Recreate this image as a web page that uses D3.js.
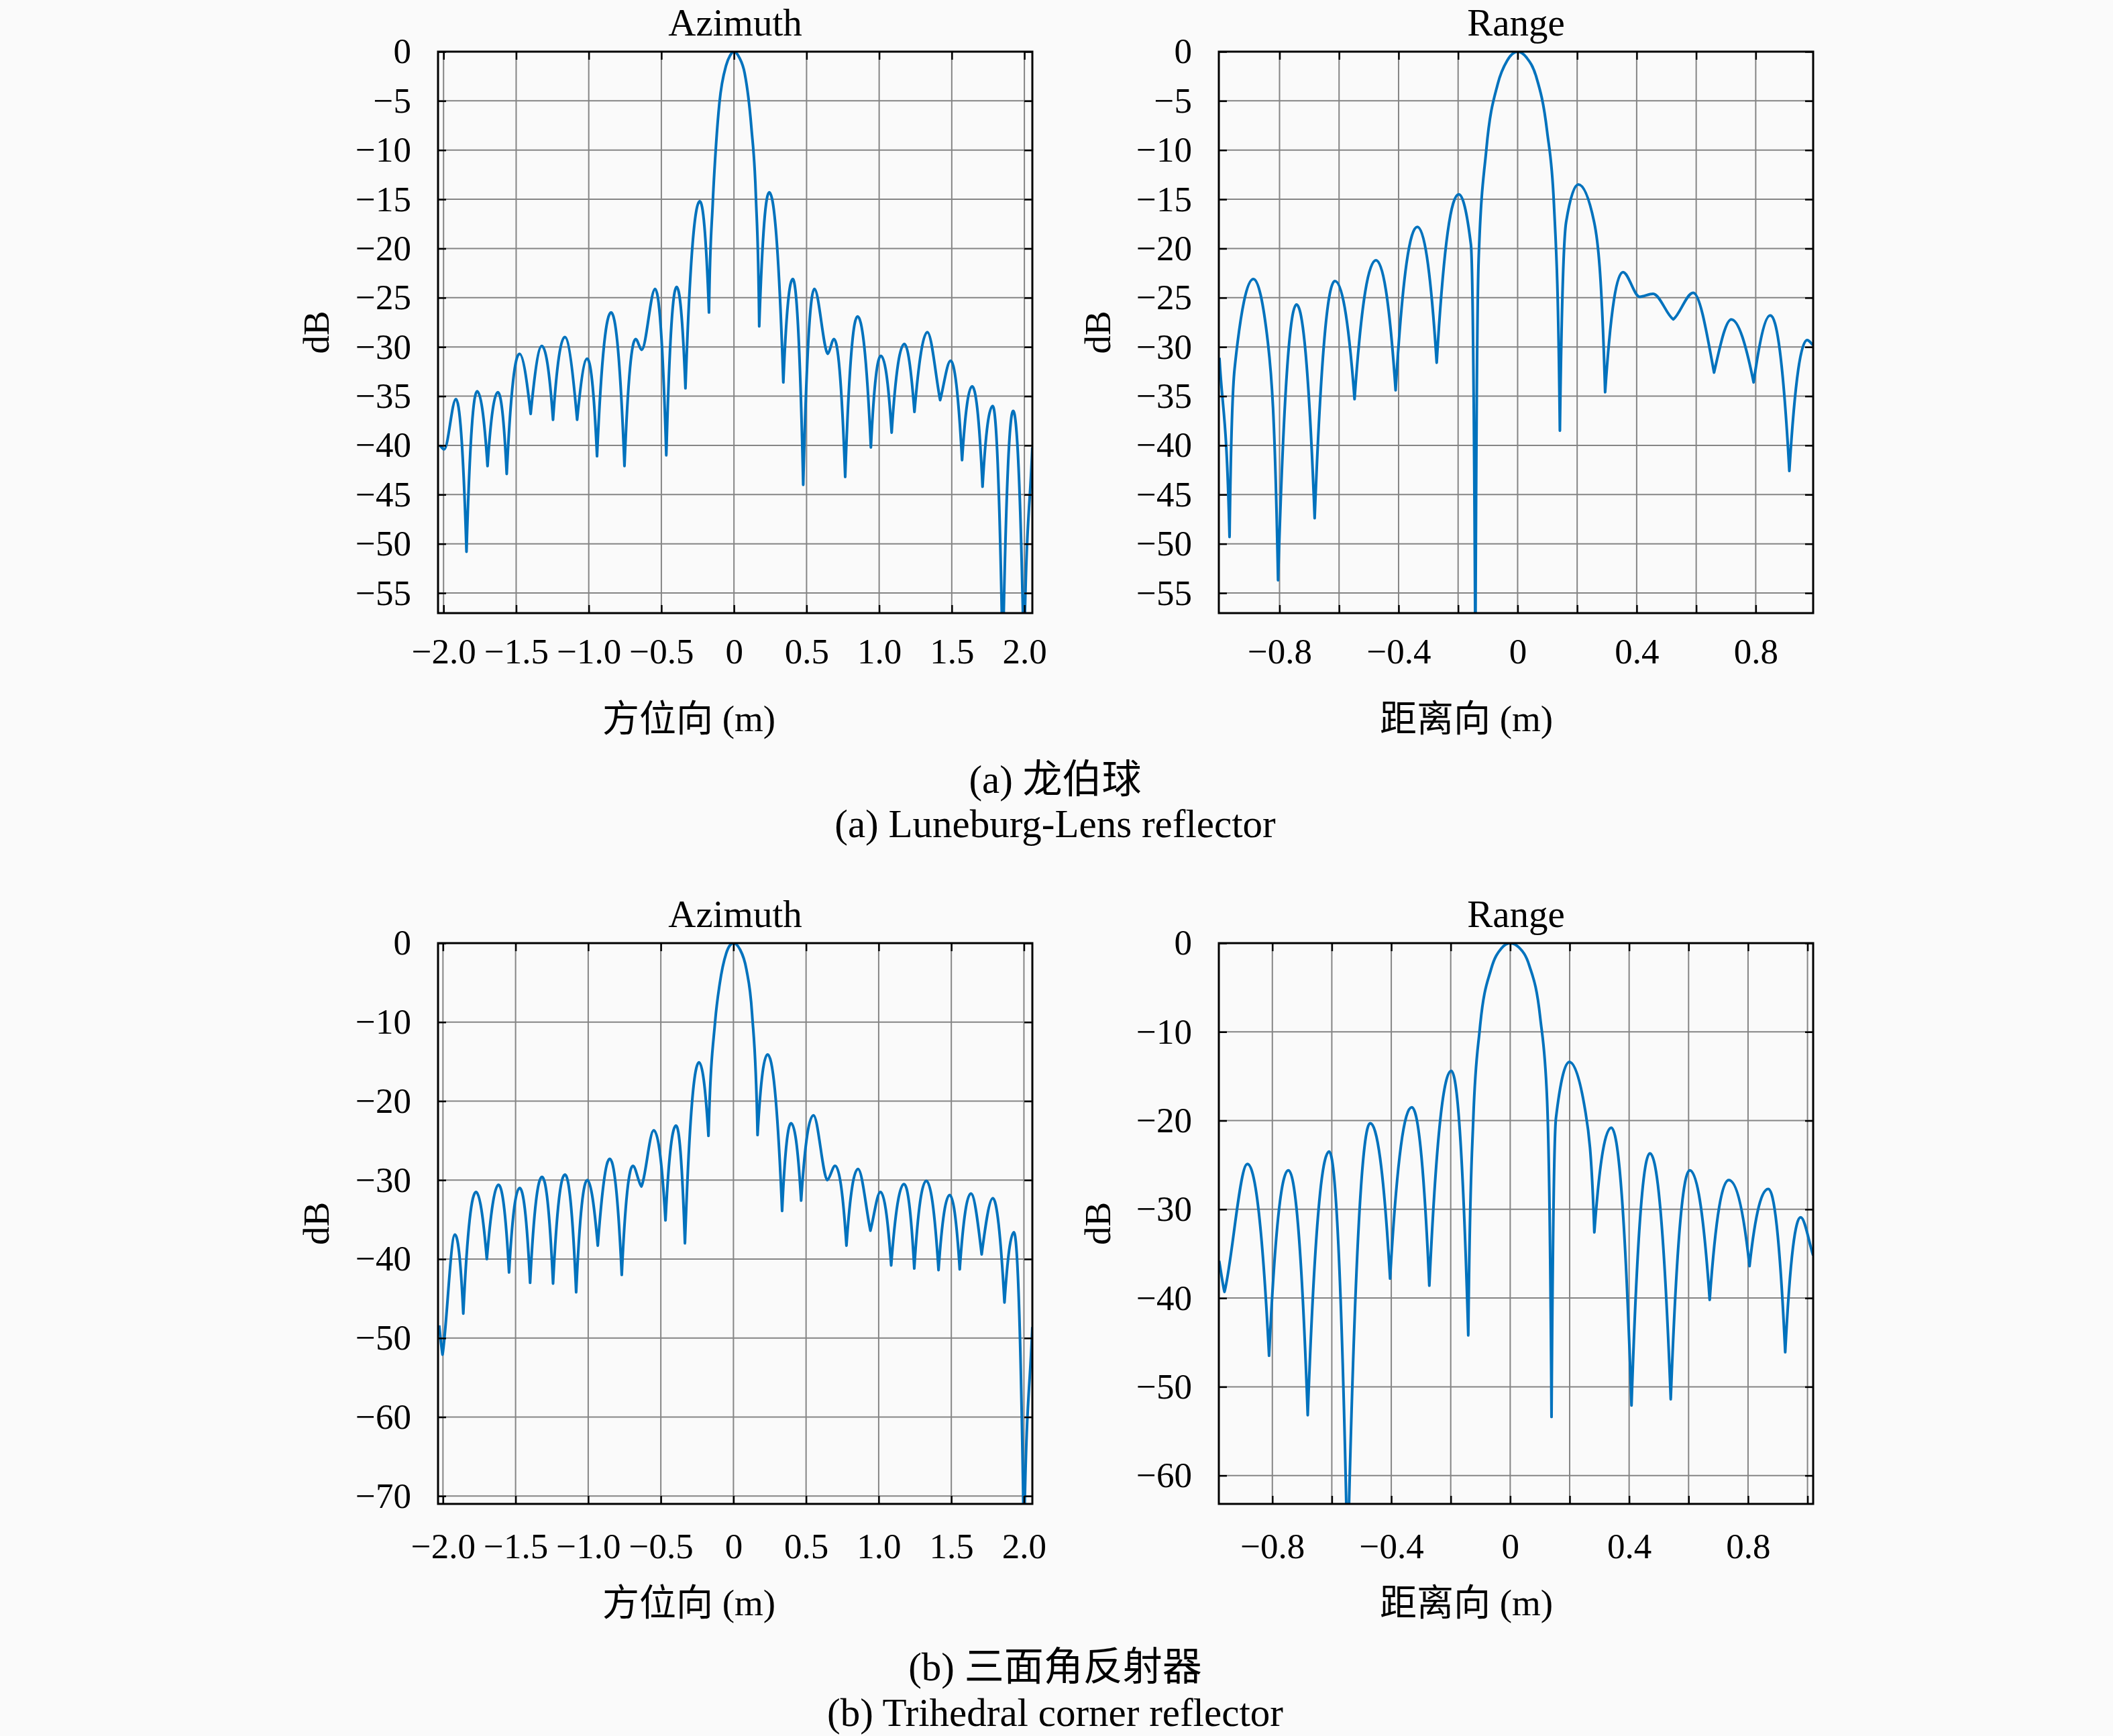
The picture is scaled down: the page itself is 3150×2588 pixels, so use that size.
<!DOCTYPE html>
<html><head><meta charset="utf-8">
<script src="https://cdn.jsdelivr.net/npm/d3@7"></script>
<style>html,body{margin:0;padding:0;background:#fafafa;}</style>
</head><body>
<script>
// ---------------- DATA ----------------
// (a) Luneburg-Lens reflector, azimuth profile
const azA_x  = [-2.026,-1.995,-1.915,-1.842,-1.769,-1.697,-1.626,-1.565,-1.477,-1.40,-1.323,-1.246,-1.165,-1.08,-1.011,-0.943,-0.846,-0.754,-0.677,-0.635,-0.543,-0.466,-0.395,-0.334,-0.235,-0.172,-0.146,-0.123,-0.10,-0.054,-0.027,0,0.037,0.074,0.12,0.151,0.174,0.243,0.34,0.405,0.477,0.554,0.646,0.689,0.766,0.851,0.943,1.012,1.086,1.174,1.243,1.332,1.42,1.492,1.571,1.64,1.712,1.782,1.851,1.923,1.997,2.055];
const azA_db = [-40.0,-40.4,-35.3,-50.8,-34.5,-42.1,-34.6,-42.9,-30.7,-36.8,-29.9,-37.4,-29.0,-37.4,-31.2,-41.1,-26.5,-42.1,-29.2,-30.3,-24.1,-41.0,-23.9,-34.2,-15.2,-26.5,-15.4,-9.4,-5.2,-1.4,-0.4,0,-0.6,-2.2,-7.7,-14.7,-27.9,-14.3,-33.6,-23.1,-44.0,-24.1,-30.7,-29.2,-43.2,-26.9,-40.2,-30.9,-38.7,-29.7,-36.6,-28.5,-35.4,-31.4,-41.5,-34.0,-44.2,-36.0,-62,-36.5,-62,-40.2];
// (a) Luneburg-Lens reflector, range profile
const rgA_x  = [-1.002,-0.968,-0.951,-0.888,-0.839,-0.805,-0.743,-0.682,-0.614,-0.548,-0.476,-0.41,-0.337,-0.272,-0.198,-0.157,-0.142,-0.131,-0.105,-0.067,-0.035,0,0.03,0.062,0.099,0.122,0.142,0.163,0.204,0.257,0.294,0.354,0.41,0.455,0.523,0.59,0.66,0.718,0.793,0.849,0.913,0.973,0.992];
const rgA_db = [-31.1,-49.3,-32.2,-23.1,-29.6,-53.7,-25.7,-47.4,-23.3,-35.3,-21.2,-34.4,-17.8,-31.6,-14.5,-19.6,-62,-21.1,-9.9,-3.3,-0.9,0,-0.6,-2.5,-8.1,-15.5,-38.5,-17.3,-13.5,-17.3,-34.6,-22.4,-24.9,-24.6,-27.2,-24.5,-32.6,-27.2,-33.6,-26.8,-42.6,-29.3,-29.8];
// (b) Trihedral corner reflector, azimuth profile
const azB_x  = [-2.026,-2.003,-1.918,-1.86,-1.772,-1.698,-1.618,-1.545,-1.472,-1.40,-1.318,-1.242,-1.16,-1.083,-1.006,-0.934,-0.852,-0.769,-0.692,-0.634,-0.549,-0.468,-0.395,-0.334,-0.237,-0.172,-0.126,-0.095,-0.05,-0.025,0,0.045,0.089,0.128,0.166,0.235,0.335,0.397,0.466,0.551,0.646,0.70,0.778,0.858,0.943,1.012,1.086,1.174,1.245,1.328,1.412,1.489,1.558,1.635,1.709,1.786,1.866,1.931,2.0,2.058];
const azB_db = [-48.4,-52.1,-36.9,-46.9,-31.5,-40.0,-30.6,-41.7,-31.0,-43.0,-29.6,-43.1,-29.3,-44.2,-30.0,-38.3,-27.3,-42.0,-28.2,-30.8,-23.7,-35.1,-23.1,-38.0,-15.1,-24.4,-9.9,-5.2,-1.3,-0.3,0,-0.8,-3.3,-8.9,-24.3,-14.1,-33.9,-22.8,-32.6,-21.8,-30.0,-28.2,-38.3,-28.6,-36.4,-31.5,-40.8,-30.5,-41.2,-30.1,-41.4,-31.9,-41.3,-31.7,-39.4,-32.3,-45.5,-36.6,-76,-48.6];
// (b) Trihedral corner reflector, range profile
const rgB_x  = [-0.979,-0.961,-0.884,-0.811,-0.746,-0.681,-0.609,-0.547,-0.471,-0.404,-0.331,-0.272,-0.198,-0.141,-0.124,-0.102,-0.064,-0.03,0,0.03,0.064,0.101,0.124,0.139,0.154,0.199,0.252,0.283,0.34,0.408,0.47,0.54,0.604,0.671,0.735,0.805,0.868,0.925,0.977,1.019];
const rgB_db = [-35.8,-39.3,-24.9,-46.5,-25.6,-53.2,-23.5,-70,-20.3,-37.8,-18.5,-38.6,-14.4,-44.2,-19.7,-9.6,-2.9,-0.6,0,-0.5,-2.5,-8.4,-17.6,-53.4,-19.7,-13.4,-18.8,-32.6,-20.8,-52.1,-23.7,-51.4,-25.6,-40.2,-26.7,-36.4,-27.7,-46.1,-30.9,-35.2];

// ticks
const azTicksX  = [-2.0,-1.5,-1.0,-0.5,0,0.5,1.0,1.5,2.0];
const rgTicksXA = [-0.8,-0.6,-0.4,-0.2,0,0.2,0.4,0.6,0.8];
const rgTicksXB = [-0.8,-0.6,-0.4,-0.2,0,0.2,0.4,0.6,0.8,1.0];
const rgLabelX  = [-0.8,-0.4,0,0.4,0.8];
const dbTicksA  = [0,-5,-10,-15,-20,-25,-30,-35,-40,-45,-50,-55];
const dbTicksBaz = [0,-10,-20,-30,-40,-50,-60,-70];
const dbTicksBrg = [0,-10,-20,-30,-40,-50,-60];

// text
const titles = ["Azimuth","Range"];
const xLabels = ["方位向 (m)","距离向 (m)"];
const yLabel = "dB";
const captions = [["(a) 龙伯球","(a) Luneburg-Lens reflector"],["(b) 三面角反射器","(b) Trihedral corner reflector"]];

// ---------------- RENDER ----------------
const W = 3150, H = 2588;
const SERIF = "'Liberation Serif','Times New Roman','Noto Sans CJK SC',serif";
const svg = d3.select("body").append("svg").attr("width", W).attr("height", H)
  .style("background", "#fafafa");

// custom curve: rounded maxima, cusp-like deep minima, monotone elsewhere
function CuspCurve(ctx){ this._context = ctx; }
CuspCurve.prototype = {
  areaStart(){}, areaEnd(){},
  lineStart(){ this._pts = []; },
  point(x, y){ this._pts.push([+x, +y]); },
  lineEnd(){
    const p = this._pts, n = p.length, c = this._context;
    if (!n) return;
    c.moveTo(p[0][0], p[0][1]);
    if (n === 1) return;
    const s = [], h = [];
    for (let i = 0; i < n - 1; i++) {
      h.push(p[i+1][0] - p[i][0]);
      s.push((p[i+1][1] - p[i][1]) / h[i]);
    }
    const tin = new Array(n).fill(0), tout = new Array(n).fill(0);
    tout[0] = s[0]; tin[n-1] = s[n-2];
    for (let i = 1; i < n - 1; i++) {
      const a = s[i-1], b = s[i], y = p[i][1], yp = p[i-1][1], yn = p[i+1][1];
      if (y < yp && y < yn) { tin[i] = tout[i] = 0; }
      else if (y > yp && y > yn) {
        const depth = y - Math.max(yp, yn);
        const K = Math.max(0, Math.min(2.2, (depth - 15) / 100 * 2.2));
        tin[i] = K * a; tout[i] = K * b;
      } else {
        let t = 0;
        if (a * b > 0) {
          const pm = (a * h[i] + b * h[i-1]) / (h[i-1] + h[i]);
          t = Math.sign(a) * Math.min(2 * Math.abs(a), 2 * Math.abs(b), Math.abs(pm));
        }
        tin[i] = tout[i] = t;
      }
    }
    for (let i = 0; i < n - 1; i++) {
      const [x0, y0] = p[i], [x1, y1] = p[i+1], dx = x1 - x0;
      c.bezierCurveTo(x0 + dx/3, y0 + tout[i]*dx/3, x1 - dx/3, y1 - tin[i+1]*dx/3, x1, y1);
    }
  }
};
const curveCusp = ctx => new CuspCurve(ctx);

const fmtNum = (v, dec) => (v === 0 ? "0" : (v < 0 ? "\u2212" : "") + Math.abs(v).toFixed(dec));

const panels = [
  {id:"aaz", x0:653, x1:1539, y0:77, y1:914, xdom:[-2.038,2.055], ydom:[-57.04,0],
   xs:azA_x, ys:azA_db, xt:azTicksX, xl:azTicksX, yt:dbTicksA, title:titles[0], xlab:xLabels[0], xlabX:1027, ylabX:490},
  {id:"arg", x0:1817, x1:2703, y0:77, y1:914, xdom:[-1.004,0.993], ydom:[-57.04,0],
   xs:rgA_x, ys:rgA_db, xt:rgTicksXA, xl:rgLabelX, yt:dbTicksA, title:titles[1], xlab:xLabels[1], xlabX:2186, ylabX:1655},
  {id:"baz", x0:653, x1:1539, y0:1406, y1:2242, xdom:[-2.034,2.058], ydom:[-71.0,0],
   xs:azB_x, ys:azB_db, xt:azTicksX, xl:azTicksX, yt:dbTicksBaz, title:titles[0], xlab:xLabels[0], xlabX:1027, ylabX:490},
  {id:"brg", x0:1817, x1:2703, y0:1406, y1:2242, xdom:[-0.98,1.019], ydom:[-63.2,0],
   xs:rgB_x, ys:rgB_db, xt:rgTicksXB, xl:rgLabelX, yt:dbTicksBrg, title:titles[1], xlab:xLabels[1], xlabX:2186, ylabX:1655}
];

const TICK = 12, FS = 53;

panels.forEach((P, k) => {
  const x = d3.scaleLinear().domain(P.xdom).range([P.x0, P.x1]);
  const y = d3.scaleLinear().domain(P.ydom).range([P.y1, P.y0]);
  const g = svg.append("g");

  // grid
  g.append("g").selectAll("line").data(P.xt).join("line")
    .attr("x1", d => x(d)).attr("x2", d => x(d)).attr("y1", P.y0).attr("y2", P.y1)
    .attr("stroke", "#858585").attr("stroke-width", 2);
  g.append("g").selectAll("line").data(P.yt).join("line")
    .attr("y1", d => y(d)).attr("y2", d => y(d)).attr("x1", P.x0).attr("x2", P.x1)
    .attr("stroke", "#858585").attr("stroke-width", 2);

  // data line
  const clipId = "clip-" + P.id;
  svg.append("clipPath").attr("id", clipId).append("rect")
    .attr("x", P.x0).attr("y", P.y0).attr("width", P.x1 - P.x0).attr("height", P.y1 - P.y0);
  const pts = P.xs.map((v, i) => [v, P.ys[i]]);
  const line = d3.line().x(d => x(d[0])).y(d => y(d[1])).curve(curveCusp);
  g.append("path").attr("d", line(pts)).attr("clip-path", `url(#${clipId})`)
    .attr("fill", "none").attr("stroke", "#0072BD").attr("stroke-width", 4)
    .attr("stroke-linejoin", "round");

  // axes
  const labSet = new Set(P.xl.map(v => v.toFixed(2)));
  const axB = d3.axisBottom(x).tickValues(P.xt).tickSizeInner(-TICK).tickSizeOuter(0)
    .tickFormat(d => labSet.has(d.toFixed(2)) ? fmtNum(d, Math.abs(d) < 1e-9 ? 0 : 1) : "");
  const gB = g.append("g").attr("transform", `translate(0,${P.y1})`).call(axB);
  gB.selectAll("text").attr("y", k < 2 ? 75 : 81).attr("dy", 0);
  const axT = d3.axisTop(x).tickValues(P.xt).tickSizeInner(-TICK).tickSizeOuter(0).tickFormat("");
  const gT = g.append("g").attr("transform", `translate(0,${P.y0})`).call(axT);
  const axL = d3.axisLeft(y).tickValues(P.yt).tickSizeInner(-TICK).tickSizeOuter(0).tickPadding(40)
    .tickFormat(d => fmtNum(d, 0));
  const gL = g.append("g").attr("transform", `translate(${P.x0},0)`).call(axL);
  const axR = d3.axisRight(y).tickValues(P.yt).tickSizeInner(-TICK).tickSizeOuter(0).tickFormat("");
  const gR = g.append("g").attr("transform", `translate(${P.x1},0)`).call(axR);
  [gB, gT, gL, gR].forEach(a => {
    a.select(".domain").remove();
    a.selectAll(".tick line").attr("stroke", "#000").attr("stroke-width", 2.5);
    a.selectAll("text").attr("font-family", SERIF).attr("font-size", FS).attr("fill", "#000");
  });

  // box
  g.append("rect").attr("x", P.x0).attr("y", P.y0).attr("width", P.x1 - P.x0).attr("height", P.y1 - P.y0)
    .attr("fill", "none").attr("stroke", "#000").attr("stroke-width", 3);

  // title
  g.append("text").attr("x", (P.x0 + P.x1) / 2).attr("y", P.y0 - (k < 2 ? 24 : 24))
    .attr("text-anchor", "middle").attr("font-family", SERIF).attr("font-size", 57).text(P.title);
  // y label
  const cy = (P.y0 + P.y1) / 2;
  g.append("text").attr("transform", `translate(${P.ylabX},${cy}) rotate(-90)`)
    .attr("text-anchor", "middle").attr("font-family", SERIF).attr("font-size", 55).text(yLabel);
  // x label
  g.append("text").attr("x", P.xlabX).attr("y", k < 2 ? 1090 : 2408)
    .attr("text-anchor", "middle").attr("font-family", SERIF).attr("font-size", 55).text(P.xlab);
});

// captions
const capY = [[1182, 1248], [2505, 2573]];
captions.forEach((pair, i) => {
  pair.forEach((t, j) => {
    svg.append("text").attr("x", 1573).attr("y", capY[i][j]).attr("text-anchor", "middle")
      .attr("font-family", SERIF).attr("font-size", 59).attr("fill", "#000").text(t);
  });
});
</script>
</body></html>
